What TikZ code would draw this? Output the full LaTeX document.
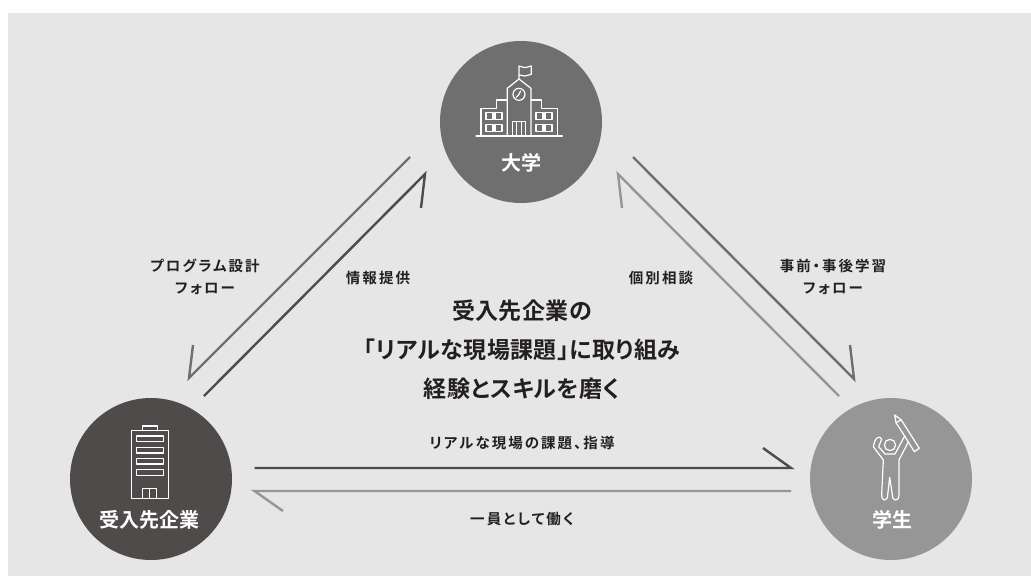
\documentclass[tikz,border=0pt]{standalone}
\usepackage{fontspec}
\setmainfont{Noto Sans CJK JP}[BoldFont={Noto Sans CJK JP Bold},RawFeature=+palt]
\newfontfamily\lblfont{Noto Sans CJK JP}[BoldFont={Noto Sans CJK JP Bold},RawFeature=+palt,LetterSpace=14]
\newfontfamily\mainfont{Noto Sans CJK JP}[BoldFont={Noto Sans CJK JP Bold},RawFeature=+palt,LetterSpace=2]
\definecolor{bgc}{HTML}{E6E6E6}
\definecolor{midc}{HTML}{6F6F6F}
\definecolor{darkc}{HTML}{4F4B4A}
\definecolor{lightc}{HTML}{969696}
\definecolor{inkc}{HTML}{231F20}
\tikzset{
  hub/.style={circle,minimum size=162pt,inner sep=0pt},
  hubname/.style={text=white,font=\fontsize{20}{20}\selectfont\bfseries,inner sep=0pt},
  lbl/.style={text=inkc,font=\lblfont\fontsize{14.5}{22}\selectfont\bfseries,align=center,inner sep=0pt},
  mainlbl/.style={text=inkc,font=\mainfont\fontsize{23}{39}\selectfont\bfseries,align=center,inner sep=0pt},
  icon/.style={white,line width=1.2pt,line join=round,line cap=round},
  conn/.style={line width=2.4pt,line join=miter},
}
\begin{document}
\begin{tikzpicture}[x=1pt,y=-1pt]
\useasboundingbox (0,0) rectangle (1031,576);
\fill[bgc] (8,13) rectangle (1031,576);
% hubs
\node[hub,fill=midc] (uni) at (521,122) {};
\node[hub,fill=darkc] (com) at (151,479) {};
\node[hub,fill=lightc] (stu) at (891,479) {};
\node[hubname] (unin) at (521,163) {大学};
\node[hubname] (comn) at (149.5,520) {受入先企業};
\node[hubname] (stun) at (892,520) {学生};
% connectors
\coordinate (a1s) at (410,157); \coordinate (a1e) at (189,378); \coordinate (a1h) at (193,345);
\coordinate (a2s) at (204,396); \coordinate (a2e) at (425,174); \coordinate (a2h) at (421,208);
\coordinate (a3s) at (633,157); \coordinate (a3e) at (854,379); \coordinate (a3h) at (850,345);
\coordinate (a4s) at (839,396); \coordinate (a4e) at (618,174); \coordinate (a4h) at (622,208);
\coordinate (a5s) at (254.5,468); \coordinate (a5e) at (791,468); \coordinate (a5h) at (763,448);
\coordinate (a6s) at (791,491); \coordinate (a6e) at (254.5,491); \coordinate (a6h) at (283,511);
\draw[conn,midc] (a1s) -- (a1e) -- (a1h);
\draw[conn,darkc] (a2s) -- (a2e) -- (a2h);
\draw[conn,midc] (a3s) -- (a3e) -- (a3h);
\draw[conn,lightc] (a4s) -- (a4e) -- (a4h);
\draw[conn,darkc] (a5s) -- (a5e) -- (a5h);
\draw[conn,lightc] (a6s) -- (a6e) -- (a6h);
% labels
\node[lbl] (l1) at (205,277) {プログラム設計\\フォロー};
\node[lbl] (l2) at (378,278) {情報提供};
\node[lbl] (l3) at (661,278) {個別相談};
\node[lbl] (l4) at (833,277) {事前・事後学習\\フォロー};
\node[lbl] (l5) at (522,443) {リアルな現場の課題、指導};
\node[lbl] (l6) at (522,519) {一員として働く};
\node[mainlbl] (mainl) at (522,350) {受入先企業の\\「リアルな現場課題」に取り組み\\経験とスキルを磨く};
% school icon
\begin{scope}[icon,shift={(430,10)},x=0.3333pt,y=-0.3333pt]
\draw (138,378) -- (397,378);
\draw (232,378) -- (232,235) -- (267,207) -- (303,235) -- (303,378);
\draw (232,270) -- (200,270) -- (200,296) -- (153,296) -- (153,378);
\draw (303,270) -- (335,270) -- (335,296) -- (382,296) -- (382,378);
\draw (267,207) -- (267,168) -- (285,173) -- (304,168) -- (304,193) -- (285,198) -- (267,195);
\draw (267,253) circle (18);
\draw (267,253) -- (272,243) (267,253) -- (259,262);
\foreach \wx in {168,195,318,345} \foreach \wy in {308,343}
  \draw (\wx,\wy) rectangle +(21,21);
\draw (247,378) -- (247,335) -- (287,335) -- (287,378) (259,335) -- (259,378) (275,335) -- (275,378);
\end{scope}
% office icon
\begin{scope}[icon,shift={(60,380)},x=0.3333pt,y=-0.3333pt]
\draw (214,152) rectangle (325,355);
\draw (247,152) -- (247,138) -- (293,138) -- (293,152);
\foreach \wy in {168,202,235,269} \draw (229,\wy) rectangle +(81,17);
\draw (247,355) -- (247,325) -- (290,325) -- (290,355) (268,325) -- (268,355);
\end{scope}
% student icon
\begin{scope}[icon,shift={(800,380)},x=0.3333pt,y=-0.3333pt]
\draw (270,195) circle (17);
\draw (245,345) .. controls (245,365) and (263,365) .. (263,345)
  -- (269,292) -- (277,345) .. controls (277,365) and (297,365) .. (297,345)
  -- (297,240) -- (325,186) -- (314,168) -- (285,222) -- (255,222) -- (236,200) -- (245,178)
  .. controls (240,165) and (225,170) .. (220,200) -- (250,240) -- cycle;
\draw (314,168) -- (288,128) -- (284,105) -- (304,120) -- (358,205) -- (343,215) -- (325,186);
\draw (288,128) -- (304,120);
\end{scope}
\end{tikzpicture}
\end{document}
